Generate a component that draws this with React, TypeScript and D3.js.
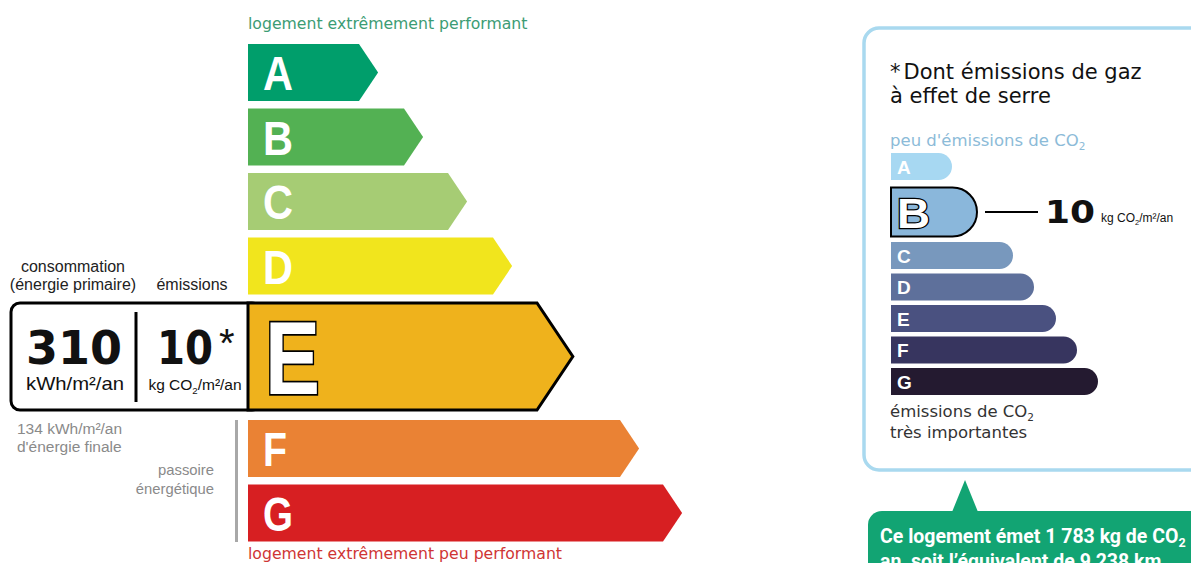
import React from "react";
import * as d3 from "d3";

// ---------- data ----------
const dpeClasses = ["A", "B", "C", "D", "E", "F", "G"];
const dpeColors = ["#009e6b", "#53b153", "#a6cc74", "#f1e51d", "#efb21c", "#ea8234", "#d71f22"];
const dpeBarLengths = [111, 156, 200, 245, 289, 372, 415];
const dpeSelected = "E";

const gesClasses = ["A", "B", "C", "D", "E", "F", "G"];
const gesColors = ["#a7d8f2", "#8ab7db", "#7898bd", "#5e709b", "#4a5180", "#37355f", "#241a30"];
const gesBarLengths = [61, 86, 122, 143, 165, 186, 207];
const gesSelected = "B";

const consumptionValue = "310";
const emissionsValue = "10";
const finalEnergyValue = "134";
const co2PerYear = "1 783";
const kmEquivalent = "9 238";

// ---------- helpers ----------
const SANS = "'Liberation Sans', Arial, sans-serif";
const VERD = "'DejaVu Sans', Verdana, sans-serif";
const BOLDNUM = "'DejaVu Sans', Verdana, sans-serif";

function Co2Unit({ x, y, size, anchor, family }: any) {
  return (
    <text x={x} y={y} fontSize={size} fontFamily={family} textAnchor={anchor} fill="#111">
      kg CO
      <tspan fontSize={size * 0.62} dy={size * 0.28}>2</tspan>
      <tspan dy={-size * 0.28}>/m²/an</tspan>
    </text>
  );
}

export default function App() {
  // ---- left DPE scale ----
  const xL = d3.scaleLinear().domain([0, d3.max(dpeBarLengths)!]).range([248, 663]);
  const rowsL: { cls: string; top: number; h: number; color: string; len: number; sel: boolean }[] = [];
  let y = 44;
  dpeClasses.forEach((c, i) => {
    const sel = c === dpeSelected;
    const next = dpeClasses[i + 1];
    const h = sel ? 107 : 57;
    rowsL.push({ cls: c, top: y, h, color: dpeColors[i], len: dpeBarLengths[i], sel });
    const gap = sel ? 10 : next === dpeSelected ? 8.5 : 7.5;
    y += h + gap;
  });
  const arrow = (r: any) => {
    const x0 = xL(0), x1 = xL(r.len), tip = r.h * 0.335;
    return `M${x0},${r.top}L${x1},${r.top}L${x1 + tip},${r.top + r.h / 2}L${x1},${r.top + r.h}L${x0},${r.top + r.h}Z`;
  };
  const selRow = rowsL.find((r) => r.sel)!;

  // ---- right GES scale ----
  const xR = d3.scaleLinear().domain([0, d3.max(gesBarLengths)!]).range([891, 1098]);
  const rowsR: { cls: string; top: number; h: number; color: string; len: number; sel: boolean }[] = [];
  let yr = 153;
  gesClasses.forEach((c, i) => {
    const sel = c === gesSelected;
    const next = gesClasses[i + 1];
    const h = sel ? 49 : 27;
    rowsR.push({ cls: c, top: yr, h, color: gesColors[i], len: gesBarLengths[i], sel });
    const gap = sel ? 5.5 : next === gesSelected ? 7.5 : 4.5;
    yr += h + gap;
  });
  const pill = (r: any) => {
    const x0 = xR(0), x1 = xR(r.len), rad = r.h / 2;
    return `M${x0},${r.top}L${x1 - rad},${r.top}A${rad},${rad} 0 0 1 ${x1 - rad},${r.top + r.h}L${x0},${r.top + r.h}Z`;
  };
  const gesSel = rowsR.find((r) => r.sel)!;

  return (
    <svg
      width={1191}
      height={563}
      style={{ position: "absolute", left: 0, top: 0, background: "#fff" }}
    >
      {/* top / bottom captions */}
      <text x={248} y={29} fontFamily={VERD} fontSize={15.7} fill="#3c9c74">
        logement extrêmement performant
      </text>
      <text x={248} y={559} fontFamily={VERD} fontSize={15.7} fill="#cf3535">
        logement extrêmement peu performant
      </text>

      {/* left labels */}
      <text x={73} y={272} textAnchor="middle" fontFamily={SANS} fontSize={16} fill="#222">consommation</text>
      <text x={73} y={290} textAnchor="middle" fontFamily={SANS} fontSize={16} fill="#222">(énergie primaire)</text>
      <text x={192} y={290} textAnchor="middle" fontFamily={SANS} fontSize={16} fill="#222">émissions</text>

      {/* value box */}
      <rect x={11} y={selRow.top} width={250} height={selRow.h} rx={9} fill="#fff" stroke="#000" strokeWidth={3} />
      <line x1={136} x2={136} y1={selRow.top + 9} y2={selRow.top + selRow.h - 8} stroke="#000" strokeWidth={3} />
      <text x={74} y={364} textAnchor="middle" fontFamily={BOLDNUM} fontWeight="bold" fontSize={46} textLength={96} lengthAdjust="spacingAndGlyphs" fill="#111">
        {consumptionValue}
      </text>
      <text x={75} y={390} textAnchor="middle" fontFamily={SANS} fontSize={18.5} textLength={98} lengthAdjust="spacingAndGlyphs" fill="#111">kWh/m²/an</text>
      <text x={157} y={364} fontFamily={BOLDNUM} fontWeight="bold" fontSize={46} textLength={56} lengthAdjust="spacingAndGlyphs" fill="#111">
        {emissionsValue}
      </text>
      <text x={219} y={357} fontFamily={SANS} fontSize={40} fill="#111">*</text>
      <Co2Unit x={195} y={390} size={15.5} anchor="middle" family={SANS} />

      {/* final energy / passoire */}
      <text x={17} y={434} fontFamily={SANS} fontSize={15.5} fill="#8a8a8a">{finalEnergyValue} kWh/m²/an</text>
      <text x={17} y={452} fontFamily={SANS} fontSize={15.5} fill="#8a8a8a">d'énergie finale</text>
      <text x={214} y={475} textAnchor="end" fontFamily={SANS} fontSize={14.8} fill="#8a8a8a">passoire</text>
      <text x={214} y={494} textAnchor="end" fontFamily={SANS} fontSize={14.8} fill="#8a8a8a">énergétique</text>
      <line x1={236.5} x2={236.5} y1={420} y2={542} stroke="#a8a8a8" strokeWidth={3} />

      {/* DPE arrows */}
      {rowsL.map((r) => (
        <g key={r.cls}>
          <path d={arrow(r)} fill={r.color} stroke={r.sel ? "#000" : "none"} strokeWidth={r.sel ? 3 : 0} strokeLinejoin="miter" />
          {r.sel ? (
            <text x={265} y={r.top + r.h / 2 + 37} fontFamily={SANS} fontWeight="bold" fontSize={103} textLength={55} lengthAdjust="spacingAndGlyphs" fill="#fff" stroke="#000" strokeWidth={3.5} paintOrder="stroke">
              {r.cls}
            </text>
          ) : (
            <text x={263} y={r.top + r.h / 2 + 17.5} fontFamily={SANS} fontWeight="bold" fontSize={49} textLength={r.cls === "F" ? 24 : 30} lengthAdjust="spacingAndGlyphs" fill="#fff">
              {r.cls}
            </text>
          )}
        </g>
      ))}

      {/* right panel */}
      <rect x={864} y={28} width={360} height={442} rx={15} fill="#fff" stroke="#a9d9ef" strokeWidth={3.5} />
      <text x={890} y={79} fontFamily={VERD} fontSize={21} fill="#111">*<tspan dx={3}>Dont émissions de gaz</tspan></text>
      <text x={890} y={103} fontFamily={VERD} fontSize={21} fill="#111">à effet de serre</text>
      <text x={890} y={146} fontFamily={VERD} fontSize={16.5} fill="#8cbbd8">
        peu d'émissions de CO
        <tspan fontSize={10.5} dy={4}>2</tspan>
      </text>

      {rowsR.map((r) => (
        <g key={r.cls}>
          <path d={pill(r)} fill={r.color} stroke={r.sel ? "#000" : "none"} strokeWidth={r.sel ? 2 : 0} />
          {r.sel ? (
            <text x={897} y={r.top + r.h / 2 + 15.5} fontFamily={SANS} fontWeight="bold" fontSize={43} textLength={33} lengthAdjust="spacingAndGlyphs" fill="#fff" stroke="#000" strokeWidth={2.5} paintOrder="stroke">
              {r.cls}
            </text>
          ) : (
            <text x={897} y={r.top + r.h / 2 + 7} fontFamily={SANS} fontWeight="bold" fontSize={19} fill="#fff">
              {r.cls}
            </text>
          )}
        </g>
      ))}
      <line x1={xR(gesSel.len) + 8} x2={1038} y1={gesSel.top + gesSel.h / 2} y2={gesSel.top + gesSel.h / 2} stroke="#000" strokeWidth={1.8} />
      <text x={1045} y={223} fontFamily={BOLDNUM} fontWeight="bold" fontSize={32} textLength={50} lengthAdjust="spacingAndGlyphs" fill="#111">
        {emissionsValue}
      </text>
      <Co2Unit x={1101} y={222} size={12} anchor="start" family={SANS} />

      <text x={890} y={417} fontFamily={VERD} fontSize={16.5} fill="#333">
        émissions de CO
        <tspan fontSize={10.5} dy={4}>2</tspan>
      </text>
      <text x={890} y={438} fontFamily={VERD} fontSize={16.5} fill="#333">très importantes</text>

      {/* callout */}
      <path d="M952,512L965,480L978,512Z" fill="#12a473" />
      <rect x={868} y={511} width={380} height={100} rx={14} fill="#12a473" />
      <text x={880} y={543} fontFamily="Roboto, sans-serif" fontWeight="bold" fontSize={19.5} fill="#fff">
        Ce logement émet {co2PerYear} kg de CO
        <tspan fontSize={12.5} dy={4}>2</tspan>
        <tspan dy={-4}> par</tspan>
      </text>
      <text x={880} y={568} fontFamily="Roboto, sans-serif" fontWeight="bold" fontSize={19.5} fill="#fff">
        an, soit l’équivalent de {kmEquivalent} km
      </text>
    </svg>
  );
}
